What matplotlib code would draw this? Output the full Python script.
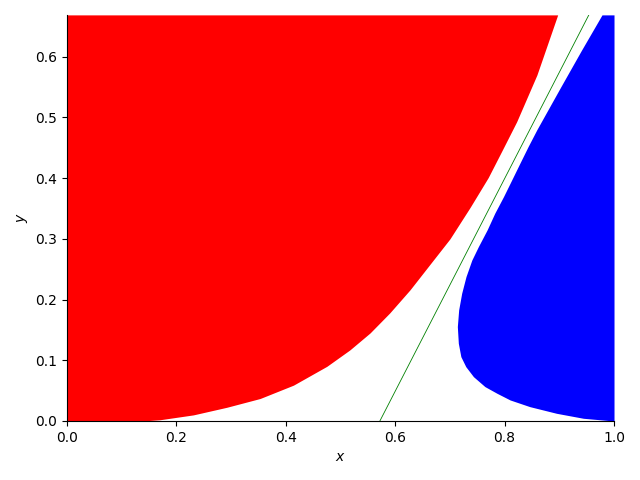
import numpy as np
import matplotlib
matplotlib.use("Agg")
import matplotlib.pyplot as plt

# Red region boundary (region lies above/left of this curve)
red_x = [0.0, 0.139, 0.17, 0.231, 0.292, 0.353, 0.414, 0.475, 0.517, 0.554, 0.59,
         0.627, 0.66, 0.70, 0.737, 0.77, 0.795, 0.822, 0.859, 0.897]
red_y = [0.0, 0.0, 0.002, 0.010, 0.0225, 0.037, 0.059, 0.090, 0.117, 0.145, 0.178,
         0.216, 0.254, 0.300, 0.352, 0.401, 0.445, 0.493, 0.570, 0.669]

# Blue region left boundary, given as x for each y (region lies right of it)
blue_y = [0.0, 0.0005, 0.0044, 0.0126, 0.0236, 0.0346, 0.0456, 0.0566, 0.073, 0.0895,
          0.106, 0.128, 0.1555, 0.183, 0.2104, 0.2379, 0.265, 0.2873, 0.3148, 0.3423,
          0.3697, 0.3972, 0.4248, 0.4522, 0.48, 0.551, 0.61, 0.669]
blue_x = [1.0, 0.993, 0.944, 0.895, 0.846, 0.810, 0.786, 0.764, 0.743, 0.729,
          0.720, 0.7154, 0.7136, 0.716, 0.7215, 0.7294, 0.740, 0.752, 0.768, 0.782,
          0.798, 0.813, 0.828, 0.843, 0.859, 0.903, 0.940, 0.978]

# Green line endpoints
line_x = [0.572, 0.954]
line_y = [0.0, 0.669]

x_max = 1.0
y_max = 0.669

fig = plt.figure(figsize=(6.4, 4.8), dpi=100)
ax = fig.add_axes([0.1047, 0.123, 0.8547, 0.846])

ax.fill_between(red_x, red_y, y_max, color='red', linewidth=0)
ax.fill_betweenx(blue_y, blue_x, x_max, color='blue', linewidth=0)
ax.plot(line_x, line_y, color='green', linewidth=0.6)

ax.set_xlim(0, x_max)
ax.set_ylim(0, y_max)
ax.spines['top'].set_visible(False)
ax.spines['right'].set_visible(False)
ax.set_xlabel('$x$')
ax.set_ylabel('$y$')

fig.savefig('out.png', dpi=100)
